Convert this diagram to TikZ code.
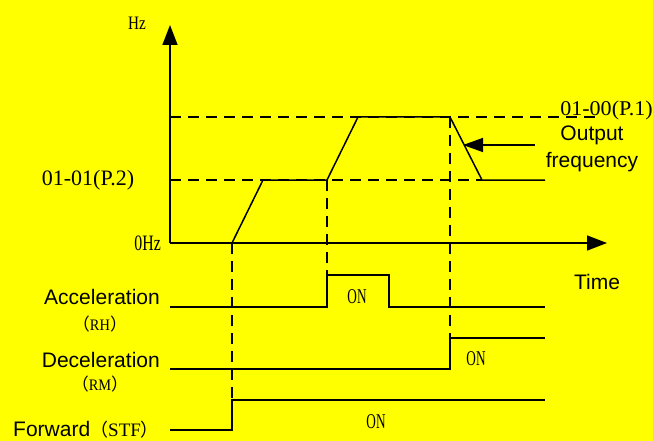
\documentclass[tikz,border=0pt]{standalone}
\usepackage{fontspec}
\usepackage{graphicx}
\setmainfont{Liberation Sans}
\newfontfamily\serf{Liberation Serif}
\newfontfamily\cjk{Noto Sans CJK SC}
\usetikzlibrary{arrows.meta}
\definecolor{bgyellow}{RGB}{255,255,0}
% \srf{size}{hscale}{text}
\newcommand{\srf}[3]{{\serf\fontsize{#1}{#1}\selectfont\scalebox{#2}[1]{#3}}}
\newcommand{\fwl}[1]{{\cjk\fontsize{#1}{#1}\selectfont （}}
\newcommand{\fwr}[1]{{\cjk\fontsize{#1}{#1}\selectfont ）}}
\begin{document}
\begin{tikzpicture}[x=1pt,y=-1pt,
  wave/.style={line width=1.5pt,line join=miter},
  guide/.style={line width=1.5pt,dash pattern=on 11pt off 7pt},
  axis/.style={line width=1.5pt,-{Triangle[length=20pt,width=15pt]}},
  lbl/.style={inner sep=0pt,font=\fontsize{21}{24}\selectfont},
  sl/.style={inner sep=0pt}]
\fill[bgyellow] (0,0) rectangle (653,441);
\useasboundingbox (0,0) rectangle (653,441);
% coordinates
\coordinate (O) at (170,243);
\coordinate (ytip) at (170,25);
\coordinate (xtip) at (607,243);
\coordinate (f0) at (232,243);
\coordinate (f1) at (263,180);
\coordinate (f2) at (327,180);
\coordinate (f3) at (358,117);
\coordinate (f4) at (450,117);
\coordinate (f5) at (482,180);
\coordinate (f6) at (545,180);
\coordinate (hT0) at (170,117);
\coordinate (hT1) at (595,117);
\coordinate (hM0) at (170,180);
% acceleration
\coordinate (a0) at (170,307);
\coordinate (a1) at (327,307);
\coordinate (a2) at (327,275);
\coordinate (a3) at (389,275);
\coordinate (a4) at (389,307);
\coordinate (a5) at (545,307);
% deceleration
\coordinate (d0) at (170,369);
\coordinate (d1) at (450,369);
\coordinate (d2) at (450,338);
\coordinate (d3) at (545,338);
% forward
\coordinate (s0) at (170,430);
\coordinate (s1) at (232,430);
\coordinate (s2) at (232,400);
\coordinate (s3) at (545,400);
% arrow
\coordinate (ar0) at (535,145);
\coordinate (ar1) at (463,145);

% guides
\draw[guide] (hT0) -- (hT1);
\draw[guide] (hM0) -- (f5);
\draw[guide] (f0) -- (s2);
\draw[guide] (f2) -- (a2);
\draw[guide] (f4) -- (d2);
% axes
\draw[axis] (O) -- (ytip);
\draw[axis] (O) -- (xtip);
% waves
\draw[wave] (f0) -- (f1) -- (f2) -- (f3) -- (f4) -- (f5) -- (f6);
\draw[wave] (a0) -- (a1) -- (a2) -- (a3) -- (a4) -- (a5);
\draw[wave] (d0) -- (d1) -- (d2) -- (d3);
\draw[wave] (s0) -- (s1) -- (s2) -- (s3);
\draw[line width=1.5pt,-{Triangle[length=20pt,width=14pt]}] (ar0) -- (ar1);

% labels
\node[sl] (hz) at (137,23) {\srf{19}{0.8}{Hz}};
\node[sl,anchor=east] (zhz) at (161,243) {\srf{22}{0.72}{0Hz}};
\node[sl] (p2) at (88,180) {\srf{22}{1}{01-01(P.2)}};
\node[sl,anchor=east] (p1) at (653,110) {\srf{21}{1.05}{01-00(P.1)}};
\node[lbl] (out) at (592,135) {Output};
\node[lbl] (freq) at (592,162) {frequency};
\node[lbl] (time) at (597,282) {Time};
\node[lbl,anchor=east] (acc) at (160,297) {Acceleration};
\node[sl] (rh) at (100,324) {\fwl{17}\srf{16}{0.9}{RH}\fwr{17}};
\node[lbl,anchor=east] (dec) at (160,360) {Deceleration};
\node[sl] (rm) at (100,384) {\fwl{17}\srf{16}{0.9}{RM}\fwr{17}};
\node[lbl,anchor=west] (fwd) at (13,430) {Forward\fwl{18}\srf{19}{1}{STF}\fwr{18}};
\node[sl] (on1) at (357,297) {\srf{21}{0.63}{ON}};
\node[sl] (on2) at (476,359) {\srf{21}{0.63}{ON}};
\node[sl] (on3) at (376,422) {\srf{21}{0.63}{ON}};
\end{tikzpicture}
\end{document}
